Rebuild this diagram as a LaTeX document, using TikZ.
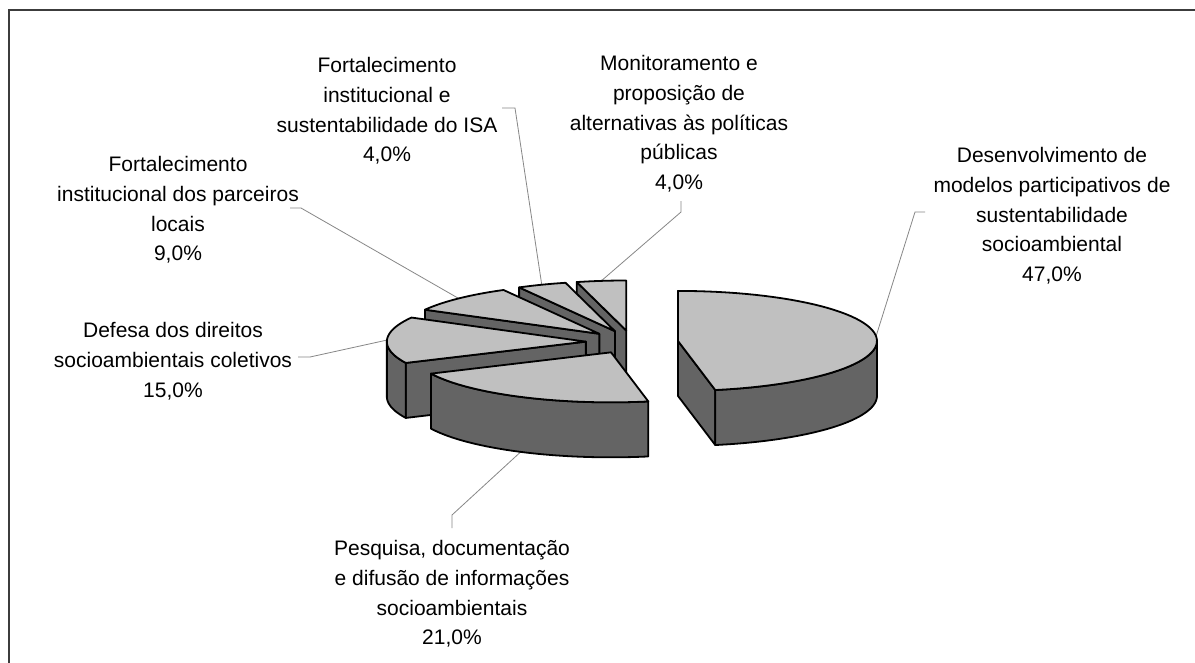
\documentclass[tikz,border=0pt]{standalone}
\usepackage{fontspec}
\setmainfont{Liberation Sans}
\definecolor{topgray}{RGB}{192,192,192}
\definecolor{sidegray}{RGB}{100,100,100}
\definecolor{leadgray}{RGB}{135,135,135}
\definecolor{framegray}{RGB}{60,60,60}
\def\pcx{632}
\def\pcy{342}
\def\pra{199}
\def\prb{50}
\def\phh{55}
\def\pex{0.232}
\newcommand{\setslice}[3]{%
  \pgfmathsetmacro{\slmid}{(#2+#3)/2}%
  \pgfmathsetmacro{\slcx}{\pcx+\pex*\pra*sin(\slmid)}%
  \pgfmathsetmacro{\slcy}{\pcy-\pex*\prb*cos(\slmid)}%
  \coordinate (#1c) at (\slcx,\slcy);
  \coordinate (#1cb) at (\slcx,{\slcy+\phh});
  \coordinate (#1s) at ({\slcx+\pra*sin(#2)},{\slcy-\prb*cos(#2)});
  \coordinate (#1sb) at ({\slcx+\pra*sin(#2)},{\slcy-\prb*cos(#2)+\phh});
  \coordinate (#1e) at ({\slcx+\pra*sin(#3)},{\slcy-\prb*cos(#3)});
  \coordinate (#1eb) at ({\slcx+\pra*sin(#3)},{\slcy-\prb*cos(#3)+\phh});
  \coordinate (#1m) at ({\slcx+\pra*sin(\slmid)},{\slcy-\prb*cos(\slmid)});
  \coordinate (#1mb) at ({\slcx+\pra*sin(\slmid)},{\slcy-\prb*cos(\slmid)+\phh});
}
\newcommand{\topface}[3]{\draw[topf] (#1c) -- plot[domain=#2:#3,samples=60] ({\slcx+\pra*sin(\x)},{\slcy-\prb*cos(\x)}) -- cycle;}
\newcommand{\wallface}[2]{\draw[sidef] plot[domain=#1:#2,samples=60] ({\slcx+\pra*sin(\x)},{\slcy-\prb*cos(\x)}) -- plot[domain=#2:#1,samples=60] ({\slcx+\pra*sin(\x)},{\slcy-\prb*cos(\x)+\phh}) -- cycle;}
\newcommand{\radface}[2]{\draw[sidef] (#1c) -- (#1#2) -- (#1#2b) -- (#1cb) -- cycle;}
\begin{document}
\begin{tikzpicture}[x=1pt,y=-1pt,
  topf/.style={fill=topgray, draw=black, line width=1.8pt, line join=round},
  sidef/.style={fill=sidegray, draw=black, line width=1.8pt, line join=round},
  leader/.style={draw=leadgray, line width=0.8pt},
  lbl/.style={align=center, inner sep=0pt, anchor=north, font=\fontsize{21}{29.8}\selectfont}]
\useasboundingbox (0,0) rectangle (1195,662);
\fill[white] (0,0) rectangle (1195,662);
\draw[framegray, line width=1.5pt] (9,666) -- (9,10) -- (1199,10);

% labels
\node[lbl] (ldes) at (1052,147) {Desenvolvimento de\\modelos participativos de\\sustentabilidade\\socioambiental\\47,0\%};
\node[lbl] (lisa) at (387,57) {Fortalecimento\\institucional e\\sustentabilidade do ISA\\4,0\%};
\node[lbl] (lmon) at (679,55) {Monitoramento e\\proposição de\\alternativas às políticas\\públicas\\4,0\%};
\node[lbl] (lpar) at (178,156) {Fortalecimento\\institucional dos parceiros\\locais\\9,0\%};
\node[lbl] (ldef) at (173,322) {Defesa dos direitos\\socioambientais coletivos\\15,0\%};
\node[lbl] (lpes) at (452,540) {Pesquisa, documentação\\e difusão de informações\\socioambientais\\21,0\%};

% leader lines
\coordinate (kdes1) at (925,212);
\coordinate (kdes2) at (915,212);
\coordinate (kisa1) at (502,108);
\coordinate (kisa2) at (515,108);
\coordinate (kmon1) at (681,201);
\coordinate (kmon2) at (681,212);
\coordinate (kpar1) at (290,208);
\coordinate (kpar2) at (301,208);
\coordinate (kdef1) at (298,357);
\coordinate (kdef2) at (310,357);
\coordinate (kpes1) at (452,528);
\coordinate (kpes2) at (452,515);

% slices (back to front)
\setslice{mon}{345.6}{360}
\draw[leader] (kmon1) -- (kmon2) -- (monm);
\radface{mon}{s}
\topface{mon}{345.6}{360}

\setslice{isa}{331.2}{345.6}
\draw[leader] (kisa1) -- (kisa2) -- (isam);
\radface{isa}{s}
\topface{isa}{331.2}{345.6}

\setslice{par}{298.8}{331.2}
\draw[leader] (kpar1) -- (kpar2) -- (parm);
\radface{par}{s}
\topface{par}{298.8}{331.2}

\setslice{def}{244.8}{298.8}
\draw[leader] (kdef1) -- (kdef2) -- (defm);
\radface{def}{s}
\wallface{244.8}{270}
\topface{def}{244.8}{298.8}

\setslice{pes}{169.2}{244.8}
\draw[leader] (kpes1) -- (kpes2) -- (pesmb);
\wallface{169.2}{244.8}
\topface{pes}{169.2}{244.8}

\setslice{des}{0}{169.2}
\draw[leader] (kdes1) -- (kdes2) -- (desm);
\radface{des}{e}
\wallface{90}{169.2}
\topface{des}{0}{169.2}
\end{tikzpicture}
\end{document}
